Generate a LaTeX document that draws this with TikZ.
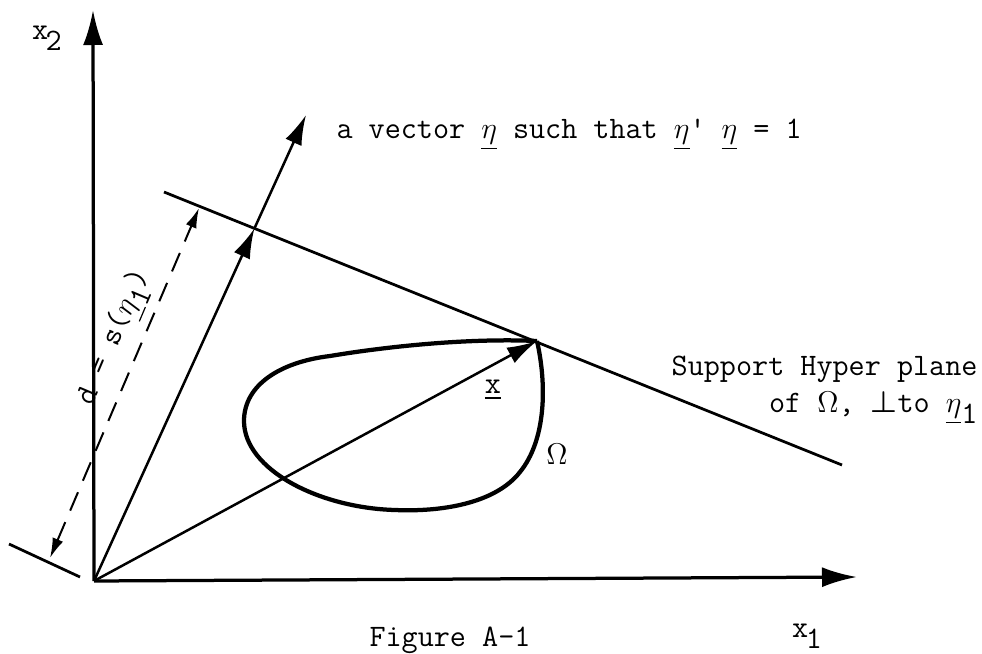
\documentclass[tikz,border=0pt]{standalone}
\usepackage{fontspec}
\usepackage{amsmath}
\usepackage{tikz}
\usetikzlibrary{arrows.meta, positioning}

\begin{document}
\begin{tikzpicture}[
    x=0.4pt, y=-0.4pt,
    font=\ttfamily\fontsize{12.5}{15}\selectfont,
    axis/.style={line width=1.3pt, -{Latex[length=14pt,width=8pt]}},
    vec/.style={line width=1pt, -{Latex[length=12pt,width=7pt]}},
    hyp/.style={line width=1.1pt},
    dim/.style={line width=0.8pt, dash pattern=on 8pt off 5pt,
                {Latex[length=8pt,width=4.5pt]}-{Latex[length=8pt,width=4.5pt]}},
    region/.style={line width=1.7pt},
    lbl/.style={inner sep=0pt}
  ]
  \useasboundingbox (0,0) rectangle (982,654);
  % points
  \coordinate (O) at (94,581);
  \coordinate (xone) at (857,577);
  \coordinate (xtwo) at (93,10);
  \coordinate (etatip) at (306,115);
  \coordinate (hypA) at (164,192);
  \coordinate (hypB) at (842,465);
  \coordinate (T) at (537,341);
  \coordinate (P) at (intersection of O--etatip and hypA--hypB);
  \coordinate (tickA) at (9,544);
  \coordinate (tickB) at (80,577);
  \coordinate (dimA) at (50,558);
  \coordinate (dimB) at (199,208);
  % axes
  \draw[axis] (O) -- (xone);
  \draw[axis] (O) -- (xtwo);
  \node[lbl] (xtwolbl) at (47,38) {x\kern-1pt\raisebox{-0.8ex}{2}};
  \node[lbl] (xonelbl) at (807,636) {x\kern-1pt\raisebox{-0.8ex}{1}};
  % the region
  \draw[region] (T) .. controls (547,385) and (546,440) .. (520,472)
    .. controls (495,504) and (440,512) .. (395,510)
    .. controls (320,508) and (244,470) .. (244,421)
    .. controls (244,385) and (280,362) .. (330,356)
    .. controls (390,346) and (470,338) .. (T);
  \node[lbl] (omega) at (557,454) {$\Omega$};
  % hyperplane and ticks
  \draw[hyp] (hypA) -- (hypB);
  \draw[hyp] (tickA) -- (tickB);
  \node[lbl, align=right, anchor=east] (hyplbl) at (978,390)
    {Support Hyper plane\\of $\Omega$, $\boldsymbol{\perp}$to $\underline{\eta}$\raisebox{-0.8ex}{1}};
  % vectors
  \draw[vec] (O) -- (P);
  \draw[vec] (P) -- (etatip);
  \node[lbl, anchor=west] (etalbl) at (336,135)
    {a vector $\underline{\eta}$ such that $\underline{\eta}$\textquotesingle{} $\underline{\eta}$ = 1};
  \draw[vec] (O) -- (T);
  \node[lbl] (xlbl) at (493,390) {\underline{x}};
  % distance
  \draw[dim] (dimA) -- (dimB);
  \node[lbl, rotate=67] (dlbl) at (116,338) {d = s($\underline{\eta}$\raisebox{-0.8ex}{1})};
  \node[lbl] (caption) at (450,640) {Figure A-1};
\end{tikzpicture}
\end{document}
